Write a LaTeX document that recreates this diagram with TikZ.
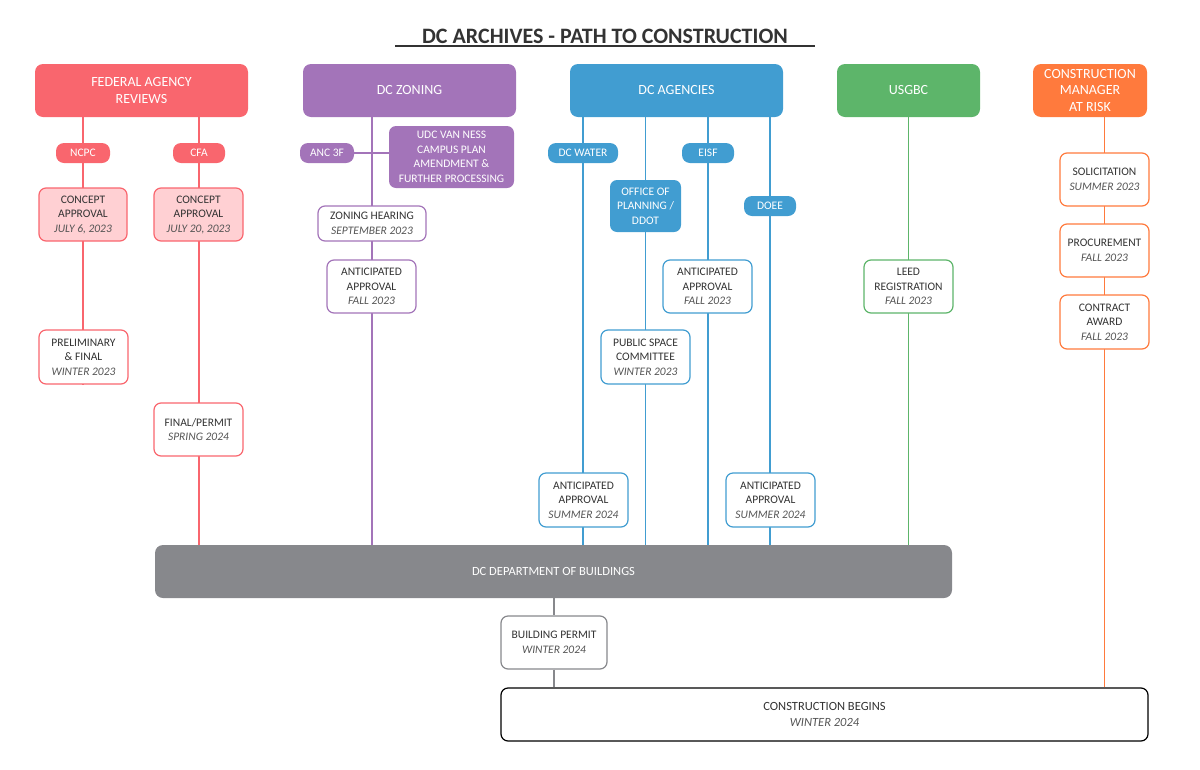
\documentclass[tikz,border=0pt]{standalone}
\usepackage{fontspec}
\setmainfont{Carlito}
\usetikzlibrary{backgrounds}
\definecolor{cred}{HTML}{F9666E}
\definecolor{cpink}{HTML}{FFD0D3}
\definecolor{cpur}{HTML}{A374B9}
\definecolor{cblue}{HTML}{419DD1}
\definecolor{cgreen}{HTML}{5DB56A}
\definecolor{corange}{HTML}{FF7A3D}
\definecolor{cgray}{HTML}{87888C}
\definecolor{ctext}{HTML}{333333}
\definecolor{cdate}{HTML}{555555}
\newcommand{\dt}[1]{{\itshape\color{cdate}#1}}
\tikzset{
 hdr/.style={rounded corners=8pt, fill=#1, text=white, align=center, font=\fontsize{14}{16.5}\selectfont, inner sep=0},
 pill/.style={rounded corners=8pt, fill=#1, text=white, align=center, minimum height=20, inner sep=0, font=\fontsize{11.5}{14}\selectfont},
 mbox/.style={draw=#1, line width=1.2pt, rounded corners=7pt, fill=white, align=center, inner sep=0, text=ctext, font=\fontsize{11.5}{14.5}\selectfont},
 ln/.style={draw=#1, line width=1.3pt}
}
\begin{document}
\begin{tikzpicture}[x=1pt,y=-1pt]
\useasboundingbox (0,0) rectangle (1200,769);
% title
\node[font=\fontsize{22}{24}\selectfont\bfseries, text=ctext] (title) at (605,36) {DC ARCHIVES - PATH TO CONSTRUCTION};
\draw[ctext, line width=1.2pt] (395,46) -- (815,46);
% headers
\node[hdr=cred, minimum width=213, minimum height=53] (fed) at (141.5,90.5) {FEDERAL AGENCY\\REVIEWS};
\node[hdr=cpur, minimum width=213, minimum height=53] (zon) at (409.5,90.5) {DC ZONING};
\node[hdr=cblue, minimum width=213, minimum height=53] (age) at (676.5,90.5) {DC AGENCIES};
\node[hdr=cgreen, minimum width=143, minimum height=53] (usg) at (908.5,90.5) {USGBC};
\node[hdr=corange, minimum width=114, minimum height=53] (cmr) at (1090,90.5) {CONSTRUCTION\\MANAGER\\AT RISK};
% DOB & construction
\node[hdr=cgray, minimum width=797, minimum height=53, font=\fontsize{12.5}{15}\selectfont] (dob) at (553.5,571.5) {DC DEPARTMENT OF BUILDINGS};
\node[mbox=cgray, minimum width=106, minimum height=53] (bp) at (554,642.5) {BUILDING PERMIT\\\dt{WINTER 2024}};
\node[mbox=black, minimum width=647, minimum height=53, font=\fontsize{12.5}{16}\selectfont] (cb) at (824.5,714.5) {CONSTRUCTION BEGINS\\\dt{WINTER 2024}};
% federal
\node[pill=cred, minimum width=54] (ncpc) at (83,153) {NCPC};
\node[pill=cred, minimum width=52] (cfa) at (199,153) {CFA};
\node[mbox=cred, fill=cpink, minimum width=88, minimum height=53] (ca1) at (83,214.5) {CONCEPT\\APPROVAL\\\dt{JULY 6, 2023}};
\node[mbox=cred, fill=cpink, minimum width=89, minimum height=53] (ca2) at (198.5,214.5) {CONCEPT\\APPROVAL\\\dt{JULY 20, 2023}};
\node[mbox=cred, minimum width=89, minimum height=54] (pf) at (83.5,357) {PRELIMINARY\\\& FINAL\\\dt{WINTER 2023}};
\node[mbox=cred, minimum width=89, minimum height=53] (fp) at (198.5,429.5) {FINAL/PERMIT\\\dt{SPRING 2024}};
% zoning
\node[pill=cpur, minimum width=54] (anc) at (327,153) {ANC 3F};
\node[hdr=cpur, rounded corners=7pt, minimum width=125, minimum height=62, font=\fontsize{11.5}{14.5}\selectfont] (udc) at (451.5,157) {UDC VAN NESS\\CAMPUS PLAN\\AMENDMENT \&\\FURTHER PROCESSING};
\node[mbox=cpur, minimum width=108, minimum height=35] (zh) at (372,223.5) {ZONING HEARING\\\dt{SEPTEMBER 2023}};
\node[mbox=cpur, minimum width=89, minimum height=53] (za) at (371.5,286.5) {ANTICIPATED\\APPROVAL\\\dt{FALL 2023}};
% agencies
\node[pill=cblue, minimum width=70] (dcw) at (583,153) {DC WATER};
\node[pill=cblue, minimum width=52] (eisf) at (708,153) {EISF};
\node[hdr=cblue, rounded corners=7pt, minimum width=71, minimum height=52, font=\fontsize{11.5}{14.5}\selectfont] (op) at (645.5,206) {OFFICE OF\\PLANNING /\\DDOT};
\node[pill=cblue, minimum width=52] (doee) at (770,206) {DOEE};
\node[mbox=cblue, minimum width=89, minimum height=53] (ea) at (707.5,286.5) {ANTICIPATED\\APPROVAL\\\dt{FALL 2023}};
\node[mbox=cblue, minimum width=89, minimum height=54] (psc) at (645.5,357) {PUBLIC SPACE\\COMMITTEE\\\dt{WINTER 2023}};
\node[mbox=cblue, minimum width=89, minimum height=54] (wa) at (583.5,500) {ANTICIPATED\\APPROVAL\\\dt{SUMMER 2024}};
\node[mbox=cblue, minimum width=89, minimum height=54] (da) at (770.5,500) {ANTICIPATED\\APPROVAL\\\dt{SUMMER 2024}};
% usgbc
\node[mbox=cgreen, minimum width=89, minimum height=53] (leed) at (908.5,286.5) {LEED\\REGISTRATION\\\dt{FALL 2023}};
% cm
\node[mbox=corange, minimum width=89, minimum height=53] (sol) at (1104.5,179.5) {SOLICITATION\\\dt{SUMMER 2023}};
\node[mbox=corange, minimum width=89, minimum height=53] (pro) at (1104.5,250.5) {PROCUREMENT\\\dt{FALL 2023}};
\node[mbox=corange, minimum width=89, minimum height=54] (ca) at (1104.5,322) {CONTRACT\\AWARD\\\dt{FALL 2023}};
\begin{scope}[on background layer]
\draw[ln=cred] (fed.south -| ncpc) -- (pf.south -| ncpc);
\draw[ln=cred] (fed.south -| cfa) -- (dob.north -| cfa);
\draw[ln=cpur] (zon.south -| zh) -- (dob.north -| zh);
\draw[ln=cpur] (anc) -- (udc.west |- anc);
\draw[ln=cblue] (age.south -| dcw) -- (dob.north -| dcw);
\draw[ln=cblue] (age.south -| op) -- (dob.north -| op);
\draw[ln=cblue] (age.south -| eisf) -- (dob.north -| eisf);
\draw[ln=cblue] (age.south -| doee) -- (dob.north -| doee);
\draw[ln=cgreen] (usg.south) -- (dob.north -| usg);
\draw[ln=corange] (cmr.south -| sol) -- (cb.north -| sol);
\draw[ln=cgray] (dob.south -| bp) -- (bp) -- (cb.north -| bp);
\end{scope}
\end{tikzpicture}
\end{document}
